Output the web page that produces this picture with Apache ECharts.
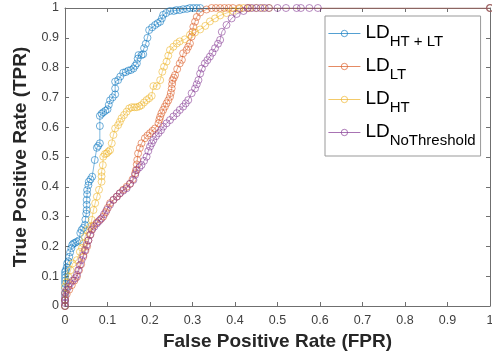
<!DOCTYPE html>
<html>
<head>
<meta charset="utf-8">
<script src="https://cdn.jsdelivr.net/npm/echarts@6/dist/echarts.min.js"></script>
<style>html,body{margin:0;padding:0;background:#fff;}#c{width:492px;height:351px;}</style>
</head>
<body>
<div id="c"></div>
<script>
// ---- data (FPR, TPR) ----
var subNames = ['HT + LT', 'LT', 'HT', 'NoThreshold'];
var xTickLabels = ['0','0.1','0.2','0.3','0.4','0.5','0.6','0.7','0.8','0.9','1'];
var yTickLabels = ['0','0.1','0.2','0.3','0.4','0.5','0.6','0.7','0.8','0.9','1'];
var ldHtLt = [[0,0],[0,0.02],[0,0.04],[0,0.06],[0,0.075],[0,0.085],[0,0.095],[0,0.105],[0,0.115],[0.002,0.12],[0.004,0.13],[0.005,0.143],[0.008,0.15],[0.01,0.165],[0.012,0.18],[0.015,0.194],[0.017,0.205],[0.02,0.21],[0.024,0.212],[0.028,0.216],[0.033,0.22],[0.036,0.245],[0.039,0.255],[0.043,0.262],[0.047,0.272],[0.048,0.29],[0.05,0.31],[0.051,0.322],[0.051,0.34],[0.051,0.356],[0.052,0.375],[0.052,0.389],[0.055,0.405],[0.056,0.417],[0.06,0.425],[0.064,0.434],[0.07,0.49],[0.075,0.531],[0.078,0.537],[0.082,0.546],[0.082,0.604],[0.082,0.638],[0.086,0.645],[0.09,0.65],[0.095,0.655],[0.1,0.66],[0.103,0.675],[0.106,0.69],[0.112,0.7],[0.118,0.71],[0.118,0.73],[0.118,0.753],[0.125,0.758],[0.13,0.77],[0.137,0.783],[0.143,0.785],[0.149,0.79],[0.155,0.792],[0.161,0.797],[0.165,0.806],[0.169,0.814],[0.171,0.83],[0.173,0.842],[0.18,0.842],[0.184,0.845],[0.186,0.865],[0.19,0.88],[0.194,0.9],[0.198,0.926],[0.205,0.935],[0.212,0.943],[0.218,0.949],[0.224,0.954],[0.228,0.965],[0.231,0.977],[0.238,0.983],[0.247,0.99],[0.256,0.99],[0.262,0.993],[0.27,0.993],[0.278,0.996],[0.287,0.997],[0.294,1],[0.302,1],[0.31,1],[0.318,1],[1,1]];
var ldLt = [[0,0],[0,0.02],[0.004,0.04],[0.01,0.055],[0.016,0.07],[0.022,0.085],[0.028,0.098],[0.033,0.12],[0.038,0.14],[0.043,0.165],[0.048,0.185],[0.052,0.2],[0.055,0.22],[0.06,0.24],[0.064,0.258],[0.067,0.27],[0.075,0.28],[0.083,0.29],[0.09,0.3],[0.096,0.315],[0.101,0.33],[0.106,0.345],[0.114,0.356],[0.122,0.367],[0.129,0.378],[0.137,0.39],[0.145,0.4],[0.153,0.41],[0.159,0.425],[0.165,0.445],[0.167,0.456],[0.169,0.475],[0.17,0.49],[0.172,0.512],[0.176,0.53],[0.18,0.546],[0.188,0.563],[0.194,0.572],[0.2,0.58],[0.206,0.588],[0.212,0.596],[0.22,0.613],[0.222,0.625],[0.224,0.635],[0.227,0.647],[0.231,0.658],[0.235,0.669],[0.239,0.68],[0.243,0.69],[0.247,0.702],[0.249,0.715],[0.251,0.73],[0.252,0.745],[0.253,0.758],[0.256,0.766],[0.259,0.775],[0.264,0.795],[0.27,0.814],[0.275,0.826],[0.278,0.848],[0.286,0.859],[0.29,0.87],[0.294,0.881],[0.298,0.904],[0.3,0.92],[0.302,0.937],[0.306,0.954],[0.31,0.97],[0.318,0.985],[0.333,0.995],[0.345,1],[0.355,1],[0.365,1],[0.375,1],[0.385,1],[0.395,1],[0.41,1],[0.43,1],[1,1]];
var ldHt = [[0,0],[0,0.02],[0,0.043],[0,0.065],[0.004,0.08],[0.008,0.098],[0.013,0.12],[0.018,0.143],[0.028,0.154],[0.035,0.182],[0.04,0.195],[0.043,0.21],[0.047,0.232],[0.052,0.255],[0.059,0.266],[0.063,0.289],[0.067,0.322],[0.071,0.345],[0.075,0.367],[0.08,0.39],[0.086,0.417],[0.086,0.435],[0.086,0.45],[0.089,0.473],[0.09,0.501],[0.094,0.51],[0.098,0.512],[0.102,0.518],[0.106,0.523],[0.11,0.546],[0.114,0.574],[0.118,0.596],[0.125,0.607],[0.129,0.618],[0.133,0.63],[0.139,0.641],[0.145,0.652],[0.151,0.663],[0.157,0.667],[0.163,0.667],[0.169,0.667],[0.175,0.67],[0.18,0.674],[0.186,0.683],[0.192,0.691],[0.198,0.697],[0.204,0.705],[0.208,0.738],[0.216,0.738],[0.224,0.758],[0.229,0.786],[0.233,0.803],[0.239,0.82],[0.243,0.84],[0.247,0.859],[0.255,0.87],[0.263,0.881],[0.27,0.888],[0.282,0.895],[0.294,0.91],[0.306,0.918],[0.318,0.928],[0.33,0.94],[0.341,0.955],[0.353,0.965],[0.365,0.975],[0.38,0.983],[0.395,0.99],[0.41,0.997],[0.42,1],[0.435,1],[0.45,1],[0.465,1],[0.48,1],[1,1]];
var ldNoThreshold = [[0,0],[0,0.01],[0,0.02],[0,0.03],[0,0.045],[0.004,0.054],[0.008,0.065],[0.012,0.076],[0.018,0.085],[0.024,0.093],[0.028,0.105],[0.031,0.12],[0.035,0.137],[0.039,0.154],[0.043,0.17],[0.047,0.188],[0.051,0.205],[0.055,0.22],[0.059,0.238],[0.063,0.255],[0.069,0.266],[0.075,0.277],[0.08,0.285],[0.086,0.294],[0.092,0.308],[0.098,0.322],[0.106,0.34],[0.114,0.356],[0.122,0.367],[0.129,0.378],[0.137,0.387],[0.145,0.395],[0.153,0.41],[0.161,0.423],[0.165,0.44],[0.169,0.456],[0.175,0.465],[0.18,0.473],[0.186,0.487],[0.192,0.501],[0.196,0.52],[0.2,0.535],[0.204,0.546],[0.208,0.557],[0.214,0.57],[0.22,0.58],[0.226,0.59],[0.231,0.602],[0.239,0.613],[0.247,0.624],[0.255,0.636],[0.263,0.647],[0.27,0.658],[0.278,0.669],[0.284,0.68],[0.29,0.691],[0.298,0.714],[0.306,0.73],[0.31,0.744],[0.314,0.758],[0.318,0.78],[0.322,0.797],[0.329,0.814],[0.335,0.825],[0.341,0.837],[0.347,0.85],[0.353,0.865],[0.36,0.88],[0.365,0.893],[0.369,0.92],[0.38,0.943],[0.392,0.965],[0.404,0.98],[0.42,0.99],[0.43,1],[0.44,1],[0.45,1],[0.46,1],[0.47,1],[0.48,1],[0.5,1],[0.52,1],[0.545,1],[0.555,1],[0.575,1],[0.595,1],[1,1]];
var seriesData = [ldHtLt, ldLt, ldHt, ldNoThreshold];
var colors = ['#0072BD', '#D95319', '#EDB120', '#7E2F8E'];

var chart = echarts.init(document.getElementById('c'), null, {renderer: 'canvas'});
var FONT = '"Liberation Sans", Arial, Helvetica, sans-serif';
var axisColor = '#6f6f6f';
function mkX(pos, show) {
  return {
    type: 'value', position: pos, min: 0, max: 1, interval: 0.1,
    name: show ? 'False Positive Rate (FPR)' : '',
    nameLocation: 'middle', nameGap: 17,
    nameTextStyle: {fontFamily: FONT, fontSize: 19, fontWeight: 'bold', color: '#262626'},
    axisLine: {show: true, onZero: false, lineStyle: {color: axisColor, width: 1}},
    axisTick: {show: true, inside: true, length: 4, lineStyle: {color: axisColor}},
    axisLabel: {show: show, margin: 8, fontFamily: FONT, fontSize: 12.5, color: '#404040',
      formatter: function (v) { return xTickLabels[Math.round(v * 10)]; }},
    splitLine: {show: false}
  };
}
function mkY(pos, show) {
  return {
    type: 'value', position: pos, min: 0, max: 1, interval: 0.1,
    name: show ? 'True Positive Rate (TPR)' : '',
    nameLocation: 'middle', nameGap: 27,
    nameTextStyle: {fontFamily: FONT, fontSize: 19, fontWeight: 'bold', color: '#262626'},
    axisLine: {show: true, onZero: false, lineStyle: {color: axisColor, width: 1}},
    axisTick: {show: true, inside: true, length: 4, lineStyle: {color: axisColor}},
    axisLabel: {show: show, margin: 6, fontFamily: FONT, fontSize: 12.5, color: '#404040',
      formatter: function (v) { return yTickLabels[Math.round(v * 10)]; }},
    splitLine: {show: false}
  };
}
var series = seriesData.map(function (d, i) {
  return {
    name: 'LD' + subNames[i],
    type: 'line',
    xAxisIndex: 0, yAxisIndex: 0,
    data: d,
    symbol: 'circle',
    symbolSize: 7,
    showSymbol: true,
    showAllSymbol: true,
    lineStyle: {color: colors[i], width: 0.6, opacity: 0.85},
    itemStyle: {color: 'rgba(255,255,255,0)', borderColor: colors[i], borderWidth: 0.7, opacity: 0.8},
    emphasis: {disabled: true},
    z: 2 + i
  };
});
var legendMap = {};
subNames.forEach(function (s) { legendMap['LD' + s] = '{a|LD}{b|' + s + '}'; });
chart.setOption({
  animation: false,
  grid: {left: 65, right: 2, top: 8, bottom: 45, containLabel: false, outerBoundsMode: 'none'},
  xAxis: [mkX('bottom', true), mkX('top', false)],
  yAxis: [mkY('left', true), mkY('right', false)],
  legend: {
    orient: 'vertical', left: 325, top: 16,
    padding: [7, 5, 8, 3],
    itemGap: 7, itemWidth: 32, itemHeight: 8, itemTextGap: 5,
    borderColor: '#999', borderWidth: 1, backgroundColor: '#fff',
    lineStyle: {width: 0.8},
    itemStyle: {borderWidth: 0.8},
    data: series.map(function (s) { return s.name; }),
    formatter: function (n) { return legendMap[n]; },
    textStyle: {
      fontFamily: FONT, color: '#000',
      rich: {
        a: {fontFamily: FONT, fontSize: 19, lineHeight: 21, color: '#000', verticalAlign: 'top'},
        b: {fontFamily: FONT, fontSize: 15, lineHeight: 16, color: '#000', padding: [11, 0, 0, 0], verticalAlign: 'top'}
      }
    }
  },
  series: series
});
</script>
</body>
</html>
